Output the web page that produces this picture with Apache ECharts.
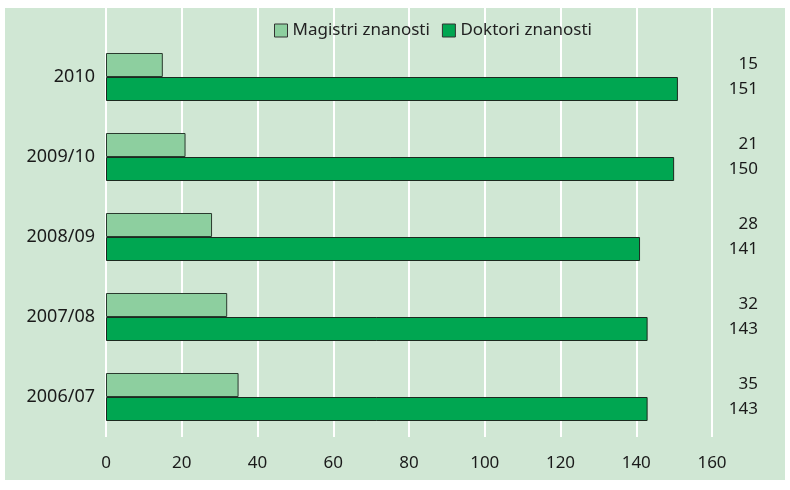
<!DOCTYPE html>
<html>
<head>
<meta charset="utf-8">
<script src="https://cdn.jsdelivr.net/npm/echarts@6/dist/echarts.min.js"></script>
<style>
  body { margin: 0; background: #fff; }
  #bg { position: absolute; left: 5px; top: 8px; width: 780px; height: 472px; background: #d0e7d4; }
  #chart { position: absolute; left: 0; top: 0; width: 790px; height: 490px; }
</style>
</head>
<body>
<div id="bg"></div>
<div id="chart"></div>
<script>
  // podaci (odozdo prema gore)
  var years = ['2006/07', '2007/08', '2008/09', '2009/10', '2010'];
  var magistri = [35, 32, 28, 21, 15];
  var doktori = [143, 143, 141, 150, 151];
  var xTicks = [0, 20, 40, 60, 80, 100, 120, 140, 160];

  var font = 'Noto Sans';
  var chart = echarts.init(document.getElementById('chart'));

  var option = {
    backgroundColor: 'transparent',
    textStyle: { fontFamily: font },
    legend: {
      top: 17,
      left: 269,
      icon: 'rect',
      itemWidth: 13,
      itemHeight: 13,
      itemGap: 12,
      textStyle: { fontSize: 17, color: '#222', fontFamily: font },
      data: [
        { name: 'Magistri znanosti', itemStyle: { borderColor: '#333', borderWidth: 1 } },
        { name: 'Doktori znanosti', itemStyle: { borderColor: '#333', borderWidth: 1 } }
      ]
    },
    grid: [
      { left: 106, right: 78, top: 8, bottom: 53 },
      { left: 106, right: 78, top: 37, bottom: 53 }
    ],
    xAxis: [
      {
        gridIndex: 0, type: 'value', min: 0, max: 160, interval: 20,
        axisLine: { show: false }, axisTick: { show: false }, axisLabel: { show: false },
        splitLine: { lineStyle: { color: '#ffffff', width: 2 } }
      },
      {
        gridIndex: 1, type: 'value', min: 0, max: 160, interval: 20,
        axisLine: { show: false }, axisTick: { show: false },
        splitLine: { show: false },
        axisLabel: {
          margin: 18, fontSize: 17, color: '#1a1a1a', fontFamily: font,
          formatter: function (v) { return xTicks.indexOf(v) >= 0 ? String(v) : ''; }
        }
      }
    ],
    yAxis: [
      { gridIndex: 0, type: 'category', data: years, show: false },
      {
        gridIndex: 1, type: 'category', data: years,
        axisLine: { show: false }, axisTick: { show: false },
        axisLabel: { margin: 11, fontSize: 18, color: '#1a1a1a', fontFamily: font }
      },
      {
        gridIndex: 1, type: 'category', data: years, position: 'right',
        axisLine: { show: false }, axisTick: { show: false },
        axisLabel: {
          margin: 46, align: 'right', fontSize: 17, color: '#1a1a1a', lineHeight: 25, fontFamily: font,
          formatter: function (v, i) { return magistri[i] + '\n' + doktori[i]; }
        }
      }
    ],
    series: [
      {
        name: 'Magistri znanosti', type: 'bar', xAxisIndex: 1, yAxisIndex: 1,
        data: magistri, barWidth: 24, barGap: '0%',
        itemStyle: { color: '#8dcf9f', borderColor: '#2a3a2e', borderWidth: 1 }
      },
      {
        name: 'Doktori znanosti', type: 'bar', xAxisIndex: 1, yAxisIndex: 1,
        data: doktori, barWidth: 24, barGap: '0%',
        itemStyle: { color: '#00a651', borderColor: '#1b2a1f', borderWidth: 1 }
      }
    ]
  };

  chart.setOption(option);
</script>
</body>
</html>
